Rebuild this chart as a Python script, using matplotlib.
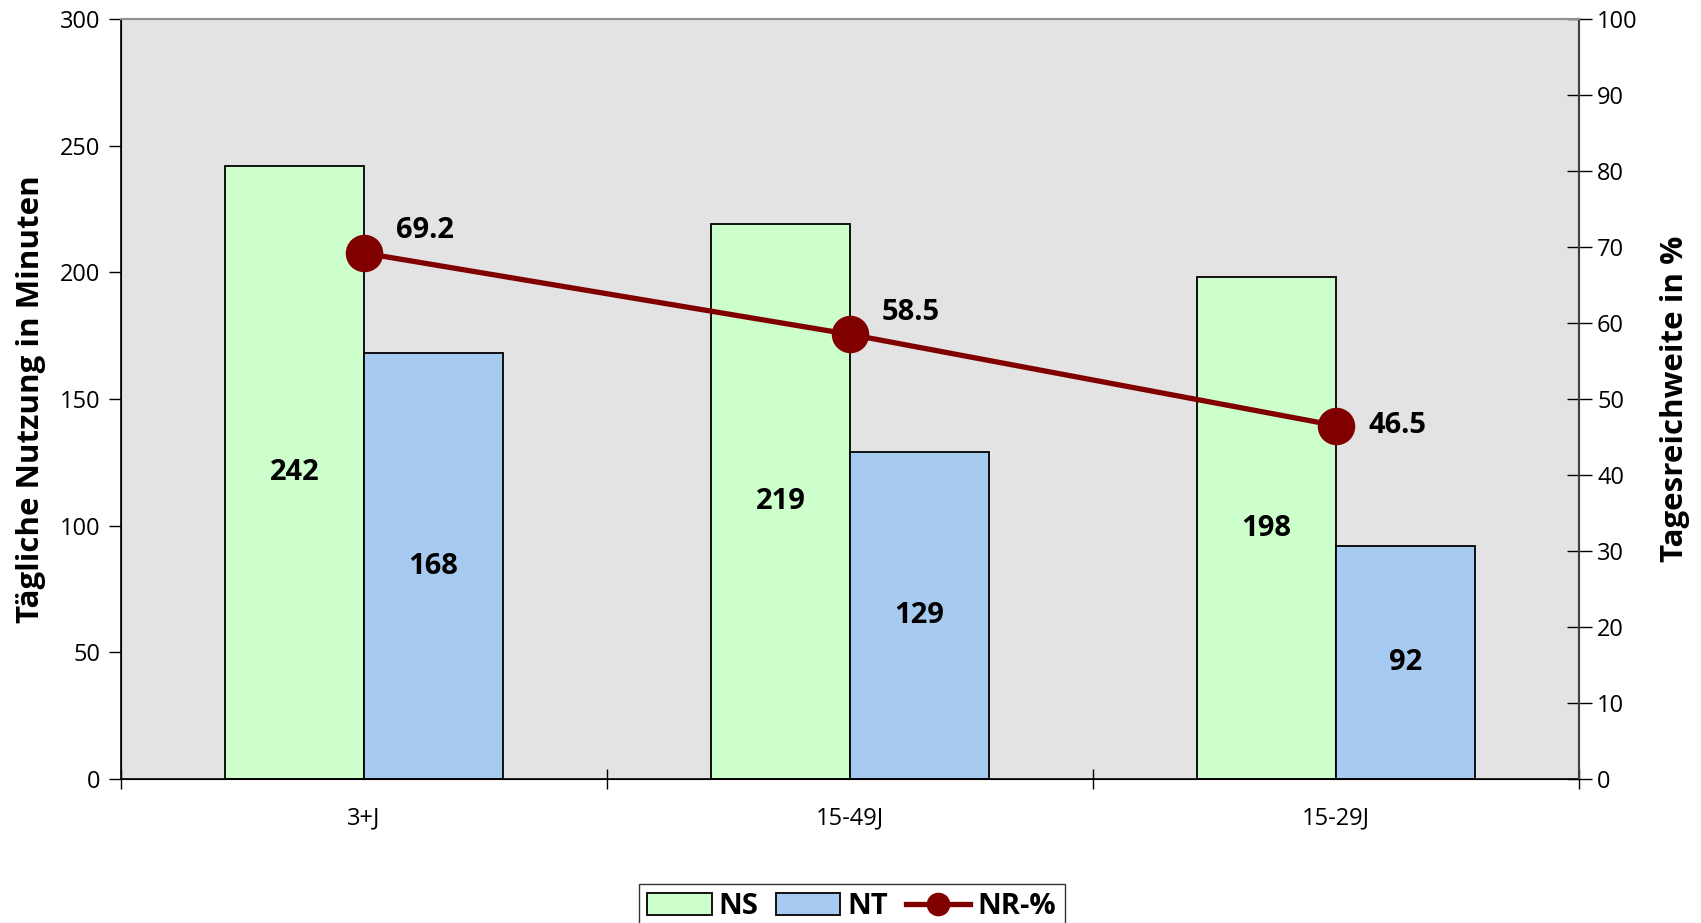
import matplotlib
matplotlib.use("Agg")
import matplotlib.pyplot as plt
import numpy as np
from matplotlib.patches import Patch
from matplotlib.lines import Line2D

categories = ["3+J", "15-49J", "15-29J"]
ns_values = [242, 219, 198]
nt_values = [168, 129, 92]
nr_values = [69.2, 58.5, 46.5]
left_ticks = [0, 50, 100, 150, 200, 250, 300]
right_ticks = [0, 10, 20, 30, 40, 50, 60, 70, 80, 90, 100]

plt.rcParams['font.family'] = ['Open Sans', 'DejaVu Sans']

fig = plt.figure(figsize=(17.01, 9.23), dpi=100)
ax = fig.add_axes([121/1701, 1-779/923, (1579-121)/1701, (779-19)/923])
ax.set_facecolor('#E3E3E3')

x = np.arange(len(categories))
w = 0.286
ax.bar(x - w/2, ns_values, w, color='#CCFFCC', edgecolor='black', linewidth=1.3, zorder=2)
ax.bar(x + w/2, nt_values, w, color='#A6CAF0', edgecolor='black', linewidth=1.3, zorder=2)
for xi, v in zip(x, ns_values):
    ax.text(xi - w/2, v/2, str(v), ha='center', va='center', fontsize=21, fontweight='bold', zorder=3)
for xi, v in zip(x, nt_values):
    ax.text(xi + w/2, v/2, str(v), ha='center', va='center', fontsize=21, fontweight='bold', zorder=3)

ax.set_xlim(-0.5, 2.5)
ax.set_ylim(0, 300)
ax.set_yticks(left_ticks)
ax.set_xticks([-0.5, 0.5, 1.5, 2.5])
ax.set_xticklabels([])
ax.set_xticks(x, minor=True)
ax.set_xticklabels(categories, minor=True, fontsize=17)
ax.tick_params(axis='x', which='major', direction='inout', length=14, width=1)
ax.tick_params(axis='x', which='minor', length=0, pad=20)
ax.tick_params(axis='y', direction='out', length=9, width=1, labelsize=17, pad=6)
ax.set_ylabel('Tägliche Nutzung in Minuten', fontsize=22.5, fontweight='bold', labelpad=10)
for s in ['left', 'bottom']:
    ax.spines[s].set_color('black')
    ax.spines[s].set_linewidth(1.2)
for s in ['top', 'right']:
    ax.spines[s].set_color('#909090')
    ax.spines[s].set_linewidth(1.5)

ax2 = ax.twinx()
ax2.set_ylim(0, 100)
ax2.set_yticks(right_ticks)
ax2.plot(x, nr_values, color='#800000', linewidth=3.8, marker='o', markersize=26, zorder=4)
label_offsets = [(44, 16), (44, 16), (44, 0)]
for xi, v, off in zip(x, nr_values, label_offsets):
    ax2.annotate(f"{v:.1f}", (xi, v), xytext=off, textcoords='offset points',
                 ha='center', va='center', fontsize=21, fontweight='bold')
ax2.tick_params(axis='y', direction='inout', length=18, width=1, labelsize=17, pad=4)
ax2.set_ylabel('Tagesreichweite in %', fontsize=22.5, fontweight='bold', labelpad=16)
ax2.spines['right'].set_color('#404040')
ax2.spines['right'].set_linewidth(1.5)
ax2.spines['top'].set_color('#909090')
ax2.spines['top'].set_linewidth(1.5)

handles = [Patch(facecolor='#CCFFCC', edgecolor='black', linewidth=1.3, label='NS'),
           Patch(facecolor='#A6CAF0', edgecolor='black', linewidth=1.3, label='NT'),
           Line2D([0], [0], color='#800000', linewidth=3.8, marker='o', markersize=16, label='NR-%')]
leg = fig.legend(handles=handles, loc='upper left', bbox_to_anchor=(624/1701, 1-869/923),
                 ncol=3, frameon=True, fancybox=False, edgecolor='black',
                 prop={'weight': 'bold', 'size': 21}, handlelength=2.2, handleheight=0.8,
                 columnspacing=0.6, handletextpad=0.25, borderpad=0.3)
leg.get_frame().set_linewidth(1)

fig.savefig('out.png', dpi=100)
